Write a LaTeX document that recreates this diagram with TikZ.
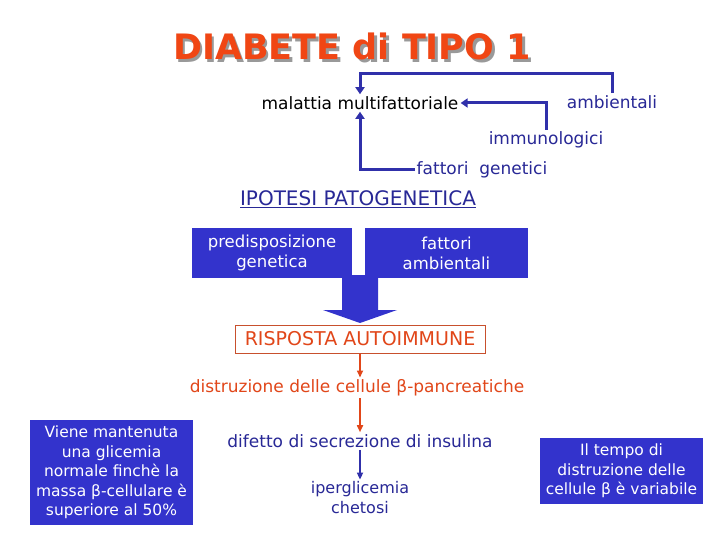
\documentclass[tikz,border=0pt]{standalone}
\usepackage{fontspec}
\setmainfont{DejaVu Sans}
\usetikzlibrary{arrows.meta}
\definecolor{boxblue}{RGB}{51,51,204}
\definecolor{lineblue}{RGB}{48,48,170}
\definecolor{txtblue}{RGB}{40,40,150}
\definecolor{titlered}{RGB}{240,70,20}
\definecolor{txtred}{RGB}{225,70,25}
\definecolor{framered}{RGB}{200,80,45}
\newcommand\shadowed[1]{\makebox[0pt][l]{\hspace{2.5pt}\raisebox{-2.5pt}{\color{black!40}#1}}#1}
\tikzset{
  txt/.style={font=\fontsize{17}{20}\selectfont, inner sep=2pt},
  bluetxt/.style={txt, text=txtblue},
  redtxt/.style={txt, text=txtred},
  bluebox/.style={fill=boxblue, text=white, align=center, inner sep=0pt,
    font=\fontsize{15.5}{19.5}\selectfont},
  link/.style={draw=lineblue, line width=3pt, -{Triangle[length=7pt,width=9pt]}},
  redlink/.style={draw=txtred, line width=1.6pt, -{Triangle[length=7pt,width=6pt]}},
  bluelink/.style={draw=lineblue, line width=1.6pt, -{Triangle[length=7pt,width=6pt]}},
}
\begin{document}
\begin{tikzpicture}[x=1pt,y=-1pt]
			%%%%% START %%%%%
			\useasboundingbox[fill=white] (0,0) rectangle (720,540);
			
			% titolo
			\node[text=titlered, font=\bfseries\fontsize{35}{38}\selectfont] (title) at (352, 48) {\shadowed{DIABETE di TIPO 1}};
			
			% fattori
			\node[txt] (mal) at (360, 103) {malattia multifattoriale};
			\node[bluetxt] (amb) at (612, 102) {ambientali};
			\node[bluetxt] (imm) at (546, 140) {immunologici};
			\node[bluetxt] (fgen) at (482, 170) {fattori\ \ genetici};
			
			\draw[link] (amb.north) -- ++(0,-20) -| (mal.north);
			\draw[link] (imm.north) |- (mal.east);
			\draw[link] (fgen.west) -| (mal.south);
			
			% ipotesi
			\node[bluetxt, font=\fontsize{20}{22}\selectfont] (ipo) at (358, 199) {\underline{IPOTESI PATOGENETICA}};
			
			\node[bluebox, font=\fontsize{16.5}{20}\selectfont, minimum width=160, minimum height=50] (pred) at (272, 253) {predisposizione\\genetica};
			\node[bluebox, font=\fontsize{16.5}{20}\selectfont, minimum width=163, minimum height=50] (famb) at (446.5, 253) {fattori\\ambientali};
			\fill[boxblue] (342, 275) -- (378, 275) -- (378, 310) -- (397, 310) -- (360, 323) -- (323, 310) -- (342, 310) -- cycle;
			
			\node[redtxt, font=\fontsize{19}{22}\selectfont, draw=framered, line width=1pt, minimum width=250, minimum height=28] (risp) at (360, 339) {RISPOSTA AUTOIMMUNE};
			
			\node[redtxt] (distr) at (357, 388) {distruzione delle cellule β-pancreatiche};
			\node[bluetxt] (dif) at (360, 441) {difetto di secrezione di insulina};
			\node[bluetxt, align=center, font=\fontsize{16}{20}\selectfont] (iper) at (360, 498) {iperglicemia\\chetosi};
			
			\draw[redlink] (risp.south) -- (risp.south |- distr.north);
			\draw[redlink] (risp.south |- distr.south) -- (risp.south |- dif.north);
			\draw[bluelink] (dif.south) -- (iper.north);
			
			% box laterali
			\node[bluebox, minimum width=163, minimum height=105] (massa) at (111.5, 472.5) {Viene mantenuta\\una glicemia\\normale finchè la\\massa β-cellulare è\\superiore al 50\%};
			\node[bluebox, minimum width=163, minimum height=66] (tempo) at (621.5, 471) {Il tempo di\\distruzione delle\\cellule β è variabile};
			
			%%%%% END %%%%%
		\end{tikzpicture}
\end{document}
